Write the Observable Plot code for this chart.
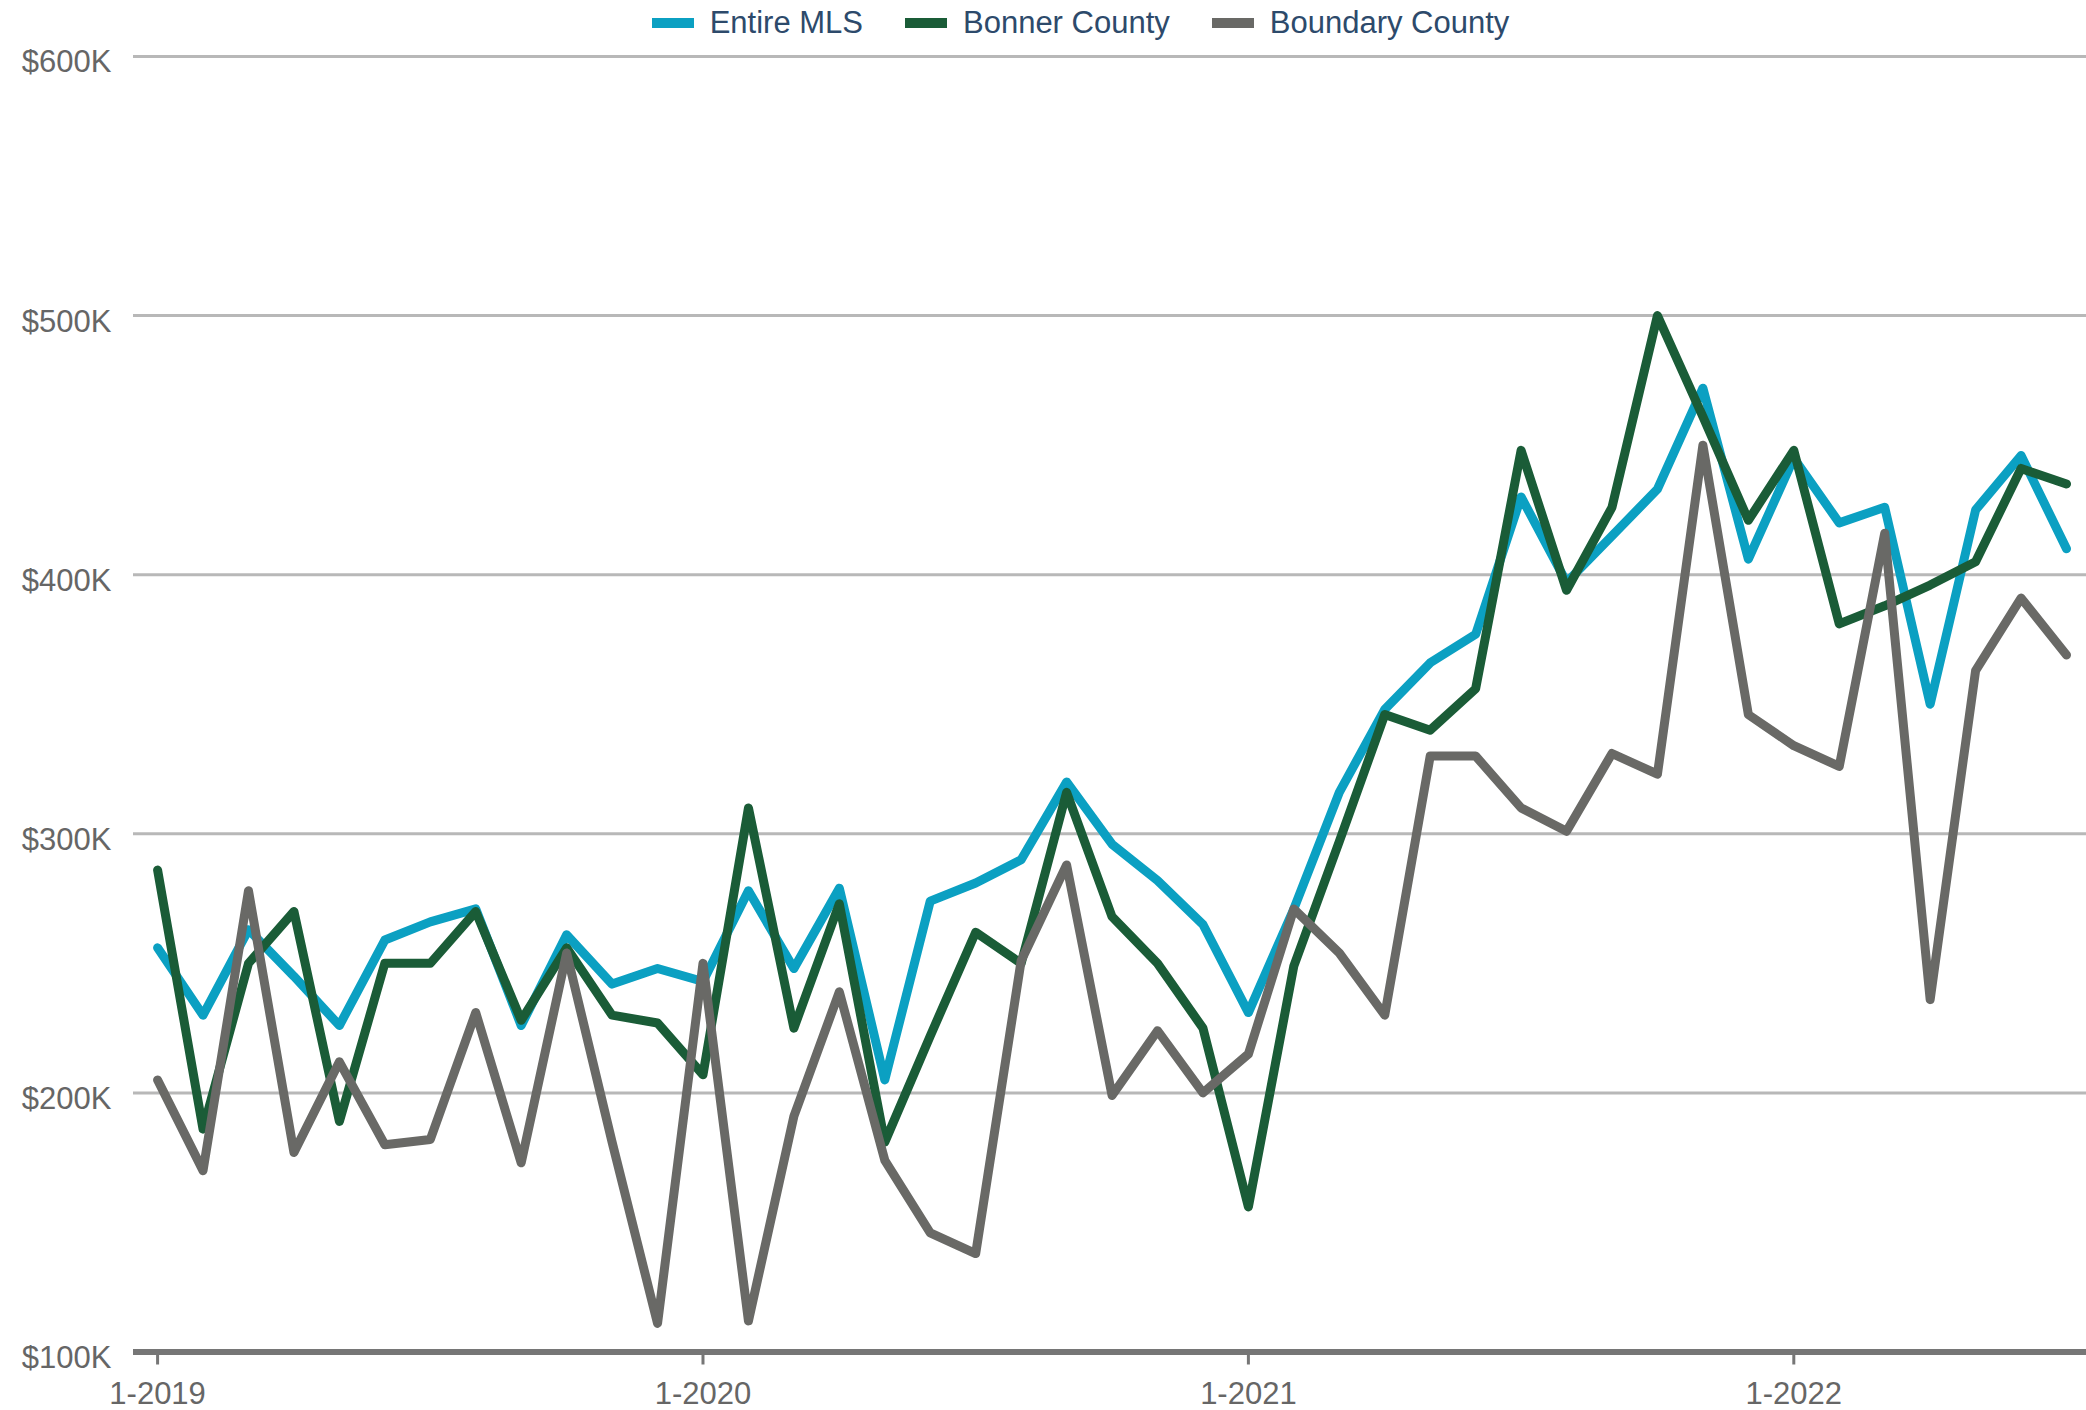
<!DOCTYPE html>
<html>
<head>
<meta charset="utf-8">
<script src="https://cdn.jsdelivr.net/npm/d3@7"></script>
<script src="https://cdn.jsdelivr.net/npm/@observablehq/plot@0.6"></script>
<style>
  html, body { margin: 0; padding: 0; background: #ffffff; }
  body { width: 2086px; height: 1410px; overflow: hidden; font-family: "Liberation Sans", Arial, sans-serif; }
  #legend { height: 40px; display: flex; justify-content: center; align-items: center; padding-left: 75px; box-sizing: border-box; width: 2086px; }
  .item { display: flex; align-items: center; margin: 0 21px; position: relative; top: 3px; }
  .sw { width: 42px; height: 10px; margin-right: 16px; }
  .lab { font-size: 31px; color: #2d4a6b; line-height: 40px; }
</style>
</head>
<body>
<div id="legend"></div>
<div id="chart"></div>
<script>
const months = [
  "1-2019","2-2019","3-2019","4-2019","5-2019","6-2019","7-2019","8-2019","9-2019","10-2019","11-2019","12-2019",
  "1-2020","2-2020","3-2020","4-2020","5-2020","6-2020","7-2020","8-2020","9-2020","10-2020","11-2020","12-2020",
  "1-2021","2-2021","3-2021","4-2021","5-2021","6-2021","7-2021","8-2021","9-2021","10-2021","11-2021","12-2021",
  "1-2022","2-2022","3-2022","4-2022","5-2022","6-2022","7-2022"
];
const seriesNames = ["Entire MLS", "Bonner County", "Boundary County"];
const seriesColors = ["#0ba0c2", "#1a5c37", "#696966"];
// values in $K
const entireMLS = [256,230,263,245,226,259,266,271,226,261,242,248,
                   243,278,248,279,205,274,281,290,320,296,282,265,
                   231,271,316,348,366,377,430,397,415,433,472,406,
                   445,420,426,350,425,446,410];
const bonnerCounty = [286,186,250,270,189,250,250,270,228,256,230,227,
                      207,310,225,273,181,222,262,250,316,268,250,225,
                      156,249,297,346,340,356,448,394,426,500,461,421,
                      448,381,388,396,405,441,435];
const boundaryCounty = [205,170,278,177,212,180,182,231,173,254,181,111,
                        250,112,191,239,174,146,138,251,288,199,224,200,
                        215,271,254,230,330,330,310,301,331,323,450,346,
                        334,326,416,236,363,391,369];
const xTickLabels = ["1-2019","1-2020","1-2021","1-2022"];
const yTicks = [100,200,300,400,500,600];
const yTickLabels = ["$100K","$200K","$300K","$400K","$500K","$600K"];

const seriesValues = [entireMLS, bonnerCounty, boundaryCounty];
const tables = seriesValues.map((vals, s) =>
  months.map((m, i) => ({month: i, label: m, value: vals[i], series: seriesNames[s]})));

// legend
const legend = document.getElementById("legend");
seriesNames.forEach((n, i) => {
  const it = document.createElement("div"); it.className = "item";
  const sw = document.createElement("div"); sw.className = "sw"; sw.style.background = seriesColors[i];
  const lb = document.createElement("span"); lb.className = "lab"; lb.textContent = n;
  it.appendChild(sw); it.appendChild(lb); legend.appendChild(it);
});

const xTicks = xTickLabels.map(l => months.indexOf(l));
const fmtX = i => months[i];
const fmtY = v => yTickLabels[yTicks.indexOf(v)];

const chart = Plot.plot({
  width: 2086,
  height: 1370,
  marginTop: 16,
  marginBottom: 58.5,
  marginLeft: 133,
  marginRight: 0,
  style: {fontFamily: '"Liberation Sans", Arial, sans-serif', fontSize: "31px", color: "#666666", background: "#ffffff"},
  x: {type: "linear", domain: [-0.53, months.length - 1 + 0.44]},
  y: {domain: [100, 600]},
  marks: [
    Plot.ruleY(yTicks.filter(v => v > 100), {stroke: "#b8b8b8", strokeWidth: 3}),
    Plot.axisY({ticks: yTicks, tickFormat: fmtY, tickSize: 0, tickPadding: 22, fontSize: 31, fill: "#666666", dy: 6, label: null}),
    Plot.axisX({ticks: xTicks, tickFormat: fmtX, tickSize: 13, tickPadding: 17, fontSize: 31, fill: "#666666", stroke: "#767676", strokeWidth: 3, label: null}),
    Plot.ruleY([100], {stroke: "#767676", strokeWidth: 6}),
    ...tables.map((t, s) => Plot.line(t, {x: "month", y: "value", stroke: seriesColors[s], strokeWidth: 9, strokeLinejoin: "round", strokeLinecap: "round"}))
  ]
});
document.getElementById("chart").appendChild(chart);
</script>
</body>
</html>
